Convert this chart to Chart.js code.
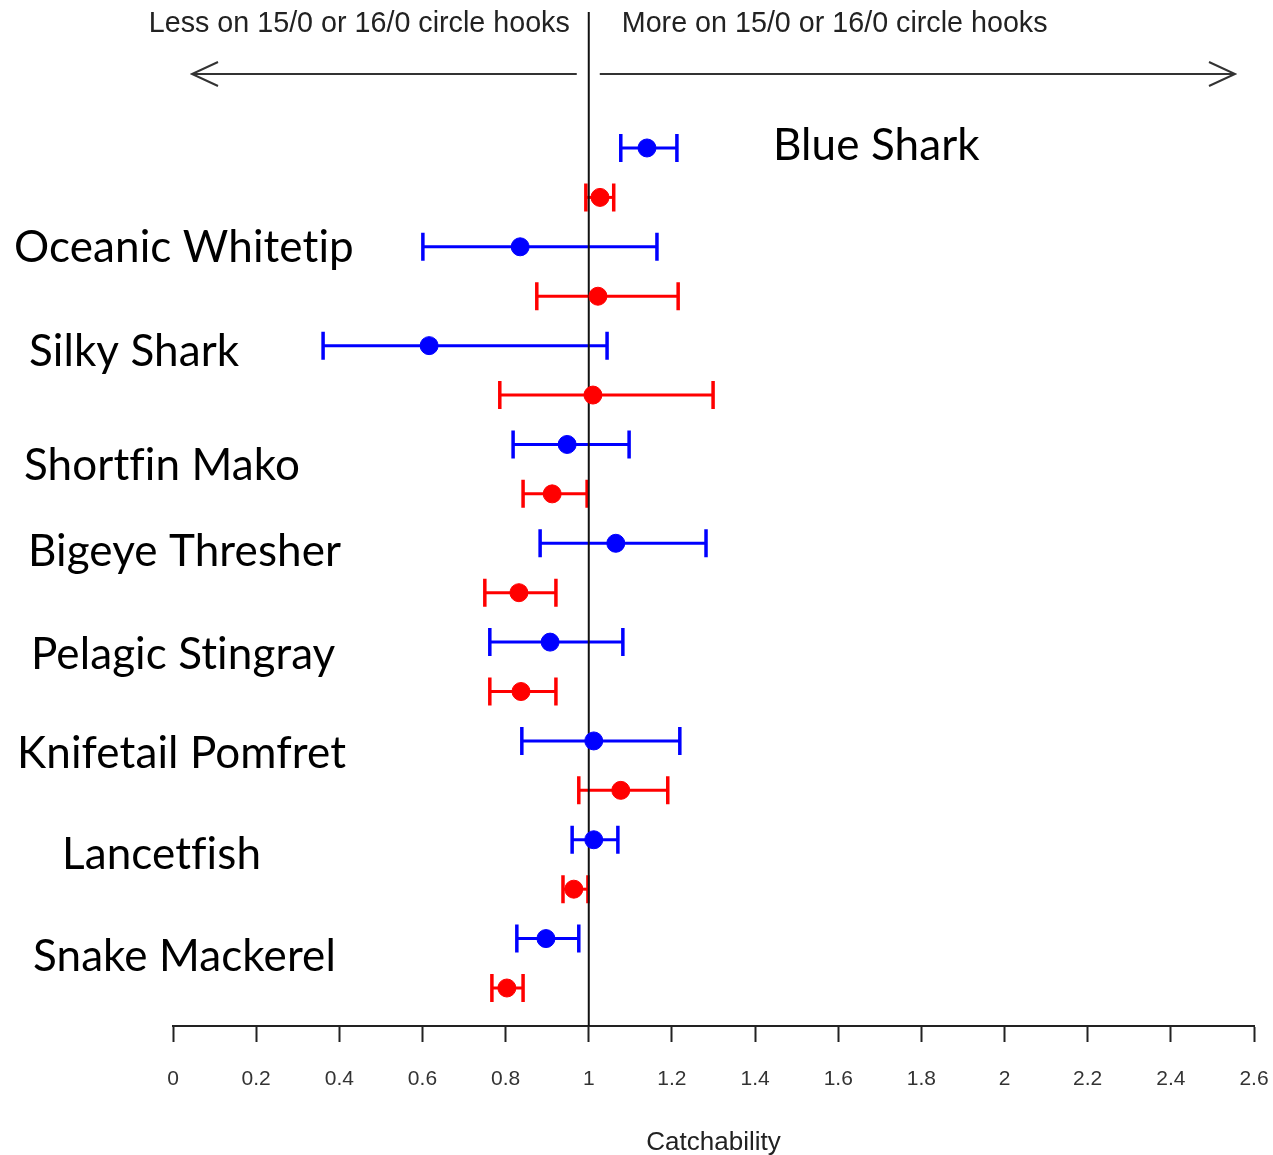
<!DOCTYPE html>
<html>
<head>
<meta charset="utf-8">
<script src="https://cdn.jsdelivr.net/npm/chart.js@4.4.1/dist/chart.umd.min.js"></script>
<style>
  html, body { margin: 0; padding: 0; background: #fff; }
  #wrap { width: 1273px; height: 1155px; position: relative; }
</style>
</head>
<body>
<div id="wrap"><canvas id="catch-chart"></canvas></div>
<script>
// species, top to bottom
const species = [
  "Blue Shark", "Oceanic Whitetip", "Silky Shark", "Shortfin Mako",
  "Bigeye Thresher", "Pelagic Stingray", "Knifetail Pomfret",
  "Lancetfish", "Snake Mackerel",
];

// blue series (upper mark in each pair)
const blueEst = [1.14, 0.835, 0.616, 0.948, 1.065, 0.907, 1.012, 1.012, 0.897];
const blueLow = [1.077, 0.601, 0.361, 0.818, 0.883, 0.762, 0.839, 0.96, 0.827];
const blueHigh = [1.212, 1.164, 1.044, 1.097, 1.282, 1.082, 1.219, 1.07, 0.976];

// red series (lower mark in each pair)
const redEst = [1.027, 1.022, 1.01, 0.912, 0.832, 0.837, 1.077, 0.964, 0.803];
const redLow = [0.993, 0.875, 0.786, 0.842, 0.75, 0.762, 0.976, 0.938, 0.767];
const redHigh = [1.06, 1.215, 1.299, 0.996, 0.921, 0.921, 1.19, 0.998, 0.842];

const xTicks = [0, 0.2, 0.4, 0.6, 0.8, 1, 1.2, 1.4, 1.6, 1.8, 2, 2.2, 2.4, 2.6];
const xTickLabels = ["0", "0.2", "0.4", "0.6", "0.8", "1", "1.2", "1.4", "1.6", "1.8", "2", "2.2", "2.4", "2.6"];

const refValue = 1;
const leftNote = "Less on 15/0 or 16/0 circle hooks";
const rightNote = "More on 15/0 or 16/0 circle hooks";

// where the species names sit (left x in px, baseline offset from the blue row)
const labelX = [773, 14, 29, 24, 28, 31, 17, 62, 33];
const labelDy = [12, 15, 20, 36, 23, 27, 27, 29, 32];

const BLUE = "#0000ff";
const RED = "#ff0000";

const blueRows = species.map((_, i) => 2 * i);
const redRows = species.map((_, i) => 2 * i + 1);

const errorBars = {
  id: "errorBars",
  beforeDatasetsDraw(chart) {
    const { ctx, scales: { x, y } } = chart;
    const sets = [
      { rows: blueRows, lo: blueLow, hi: blueHigh, color: BLUE },
      { rows: redRows, lo: redLow, hi: redHigh, color: RED },
    ];
    ctx.save();
    sets.forEach((s) => {
      ctx.strokeStyle = s.color;
      s.rows.forEach((row, i) => {
        const py = y.getPixelForValue(row);
        const x0 = x.getPixelForValue(s.lo[i]);
        const x1 = x.getPixelForValue(s.hi[i]);
        ctx.lineWidth = 3;
        ctx.beginPath();
        ctx.moveTo(x0, py);
        ctx.lineTo(x1, py);
        ctx.stroke();
        ctx.lineWidth = 3.5;
        ctx.beginPath();
        ctx.moveTo(x0, py - 14);
        ctx.lineTo(x0, py + 14);
        ctx.moveTo(x1, py - 14);
        ctx.lineTo(x1, py + 14);
        ctx.stroke();
      });
    });
    ctx.restore();
  },
};

const annotations = {
  id: "annotations",
  beforeDatasetsDraw(chart) {
    const { ctx, chartArea, scales: { x } } = chart;
    const rx = x.getPixelForValue(refValue);
    ctx.save();
    // reference line at 1
    ctx.strokeStyle = "#111";
    ctx.lineWidth = 2;
    ctx.beginPath();
    ctx.moveTo(rx, chartArea.top);
    ctx.lineTo(rx, chartArea.bottom);
    ctx.stroke();
    ctx.restore();
  },
  afterDraw(chart) {
    const { ctx, chartArea, scales: { x, y } } = chart;
    const rx = x.getPixelForValue(refValue);
    ctx.save();

    ctx.fillStyle = "#222";
    ctx.font = "28.7px 'Liberation Sans', Arial, sans-serif";
    ctx.textBaseline = "alphabetic";
    ctx.textAlign = "right";
    ctx.fillText(leftNote, rx - 19, 32);
    ctx.textAlign = "left";
    ctx.fillText(rightNote, rx + 33, 32);

    // arrows
    const ay = 74;
    const lTip = chartArea.left + 19;
    const rTip = chartArea.right - 19;
    ctx.strokeStyle = "#333";
    ctx.lineWidth = 2;
    ctx.beginPath();
    ctx.moveTo(rx - 12, ay);
    ctx.lineTo(lTip, ay);
    ctx.moveTo(lTip + 26, ay - 12);
    ctx.lineTo(lTip, ay);
    ctx.lineTo(lTip + 26, ay + 12);
    ctx.moveTo(rx + 11, ay);
    ctx.lineTo(rTip, ay);
    ctx.moveTo(rTip - 26, ay - 12);
    ctx.lineTo(rTip, ay);
    ctx.lineTo(rTip - 26, ay + 12);
    ctx.stroke();

    // species names (small letter spacing keeps fi / ti from joining)
    ctx.fillStyle = "#000";
    ctx.font = "44px Lato, 'Open Sans', sans-serif";
    ctx.letterSpacing = "0.1px";
    ctx.textAlign = "left";
    species.forEach((name, i) => {
      ctx.fillText(name, labelX[i], y.getPixelForValue(blueRows[i]) + labelDy[i]);
    });
    ctx.restore();
  },
};

// rows 0..17 top to bottom; range chosen so the rows land where the figure has them
const rowMin = -2.752;
const rowMax = 17.769;

new Chart(document.getElementById("catch-chart"), {
  type: "scatter",
  data: {
    datasets: [
      {
        label: "blue",
        data: blueEst.map((v, i) => ({ x: v, y: blueRows[i] })),
        backgroundColor: BLUE,
        borderColor: BLUE,
        pointRadius: 9,
        pointHoverRadius: 9,
      },
      {
        label: "red",
        data: redEst.map((v, i) => ({ x: v, y: redRows[i] })),
        backgroundColor: RED,
        borderColor: RED,
        pointRadius: 9,
        pointHoverRadius: 9,
      },
    ],
  },
  options: {
    responsive: true,
    maintainAspectRatio: false,
    animation: false,
    layout: { padding: { left: 173, right: 19, top: 12, bottom: 0 } },
    plugins: {
      legend: { display: false },
      tooltip: { enabled: false },
    },
    scales: {
      x: {
        type: "linear",
        position: "bottom",
        min: 0,
        max: 2.6,
        afterBuildTicks: (scale) => {
          scale.ticks = xTicks.map((v) => ({ value: v }));
        },
        afterFit: (scale) => {
          scale.height = 129;
          scale.paddingLeft = 0;
          scale.paddingRight = 0;
        },
        border: { display: true, color: "#222", width: 2 },
        grid: {
          display: true,
          drawOnChartArea: false,
          drawTicks: true,
          tickLength: 16,
          tickWidth: 2,
          tickColor: "#222",
        },
        ticks: {
          autoSkip: false,
          maxRotation: 0,
          padding: 25,
          color: "#333",
          font: { family: "'Liberation Sans', Arial, sans-serif", size: 21 },
          callback: (v, i) => xTickLabels[i],
        },
        title: {
          display: true,
          text: "Catchability",
          color: "#222",
          font: { family: "'Liberation Sans', Arial, sans-serif", size: 26 },
          padding: { top: 0, bottom: -3 },
        },
      },
      y: {
        type: "linear",
        display: false,
        reverse: true,
        min: rowMin,
        max: rowMax,
      },
    },
  },
  plugins: [errorBars, annotations],
});
</script>
</body>
</html>
